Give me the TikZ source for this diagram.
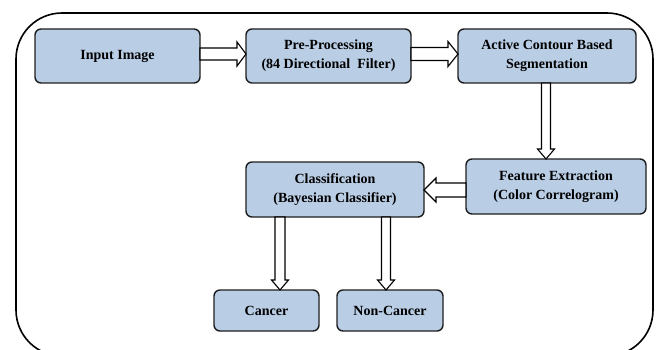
\documentclass[tikz,border=0pt]{standalone}
\usepackage{fontspec}
\setmainfont{Liberation Serif}
\usetikzlibrary{calc}
\definecolor{boxfill}{RGB}{185,205,229}
\definecolor{boxline}{RGB}{30,30,30}
\tikzset{
  stepbox/.style={draw=boxline, fill=boxfill, line width=1.4pt, rounded corners=6pt,
    inner sep=0pt, outer sep=0pt, align=center,
    font=\fontsize{14}{19}\selectfont\bfseries},
  hollow/.style={draw=black, fill=white, line width=1.1pt, line join=miter},
}
% horizontal arrow to the right: #1 from, #2 to, #3 y centre, #4 shaft half, #5 head half, #6 head length
\newcommand\arrR[6]{\draw[hollow] let \p1=(#1.east), \p2=(#2.west) in
  (\x1,#3pt+#4pt) -- (\x2-#6pt,#3pt+#4pt) -- (\x2-#6pt,#3pt+#5pt) -- (\x2,#3pt)
  -- (\x2-#6pt,#3pt-#5pt) -- (\x2-#6pt,#3pt-#4pt) -- (\x1,#3pt-#4pt) -- cycle;}
% horizontal arrow to the left
\newcommand\arrL[6]{\draw[hollow] let \p1=(#1.west), \p2=(#2.east) in
  (\x1,#3pt+#4pt) -- (\x2+#6pt,#3pt+#4pt) -- (\x2+#6pt,#3pt+#5pt) -- (\x2,#3pt)
  -- (\x2+#6pt,#3pt-#5pt) -- (\x2+#6pt,#3pt-#4pt) -- (\x1,#3pt-#4pt) -- cycle;}
% vertical arrow downwards: #3 x centre
\newcommand\arrD[6]{\draw[hollow] let \p1=(#1.south), \p2=(#2.north) in
  (#3pt-#4pt,\y1) -- (#3pt-#4pt,\y2+#6pt) -- (#3pt-#5pt,\y2+#6pt) -- (#3pt,\y2)
  -- (#3pt+#5pt,\y2+#6pt) -- (#3pt+#4pt,\y2+#6pt) -- (#3pt+#4pt,\y1) -- cycle;}
\begin{document}
\begin{tikzpicture}[x=1pt,y=1pt]
\useasboundingbox (0,0) rectangle (657,349);
\clip (0,0) rectangle (657,349);
\draw[line width=1.6pt, rounded corners=46pt] (16,336) rectangle (653,-7);

\node[stepbox, minimum width=165pt, minimum height=54pt] (input) at (117.5,293) {Input Image};
\node[stepbox, minimum width=165pt, minimum height=54pt] (pre) at (328.5,293) {Pre-Processing\\(84 Directional~ Filter)};
\node[stepbox, minimum width=178pt, minimum height=54pt] (active) at (547,293) {Active Contour Based\\Segmentation};
\node[stepbox, minimum width=180pt, minimum height=55pt] (feature) at (556,162.5) {Feature Extraction\\(Color Correlogram)};
\node[stepbox, minimum width=178pt, minimum height=55pt] (class) at (335,159.5) {Classification\\(Bayesian Classifier)};
\node[stepbox, minimum width=105pt, minimum height=41pt] (cancer) at (266.5,38.5) {Cancer};
\node[stepbox, minimum width=106pt, minimum height=41pt] (noncancer) at (390,38.5) {Non-Cancer};

\arrR{input}{pre}{295}{6}{12}{9}
\arrR{pre}{active}{295}{6.5}{12.5}{10}
\arrD{active}{feature}{546}{4.5}{8.5}{10}
\arrL{feature}{class}{159}{7}{12}{12}
\arrD{class}{cancer}{280}{5}{8.5}{10}
\arrD{class}{noncancer}{386}{4.5}{8.5}{10}
\end{tikzpicture}
\end{document}
